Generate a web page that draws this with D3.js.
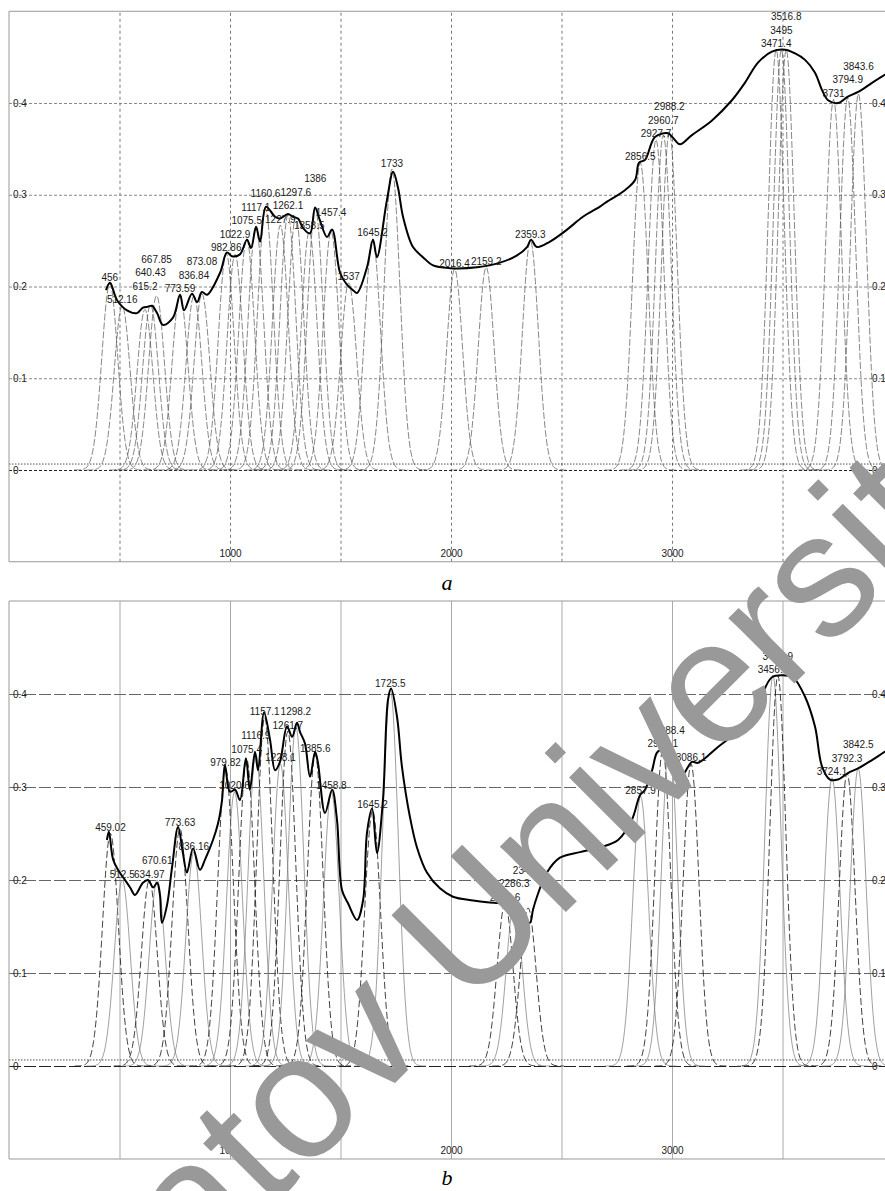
<!DOCTYPE html>
<html>
<head>
<meta charset="utf-8">
<script src="https://cdn.jsdelivr.net/npm/d3@7"></script>
<style>
body { margin: 0; background: #fff; }
text { font-family: "Liberation Sans", Arial, sans-serif; }
</style>
</head>
<body>
<svg id="fig" width="885" height="1191"></svg>
<script>
// ---- panel a: measured spectrum (wavenumber, absorbance)
const specA_nu = [439,457,489,534,579,606,629,647,670,697,742,774,792,828,851,873,896,955,986,1009,1045,1077,1095,1118,1136,1163,1204,1226,1262,1285,1308,1330,1362,1385,1407,1439,1462,1498,1529,1557,1575,1620,1647,1665,1710,1738,1760,1783,1828,1873,1919,1995,2118,2222,2299,2344,2362,2389,2448,2525,2597,2674,2697,2787,2833,2851,2878,2923,2982,3005,3036,3090,3181,3271,3330,3389,3452,3511,3557,3602,3647,3679,3706,3751,3796,3842,3905,3964,4000];
const specA_abs = [0.196,0.204,0.185,0.174,0.171,0.177,0.178,0.179,0.171,0.158,0.166,0.191,0.174,0.192,0.183,0.194,0.191,0.215,0.237,0.233,0.235,0.251,0.242,0.265,0.249,0.287,0.276,0.274,0.279,0.276,0.274,0.264,0.258,0.286,0.272,0.254,0.262,0.215,0.202,0.196,0.193,0.221,0.251,0.232,0.294,0.325,0.308,0.276,0.243,0.232,0.223,0.220,0.221,0.226,0.234,0.243,0.251,0.243,0.249,0.262,0.276,0.287,0.291,0.305,0.316,0.335,0.338,0.363,0.367,0.362,0.355,0.365,0.381,0.403,0.422,0.444,0.456,0.458,0.454,0.447,0.433,0.414,0.403,0.400,0.407,0.412,0.422,0.431,0.436];

// panel a: fitted bands (position, height)
const peaksA = [456,512.16,615.2,640.43,667.85,773.59,836.84,873.08,982.86,1022.9,1075.5,1117.1,1160.6,1227.9,1262.1,1297.6,1358.5,1386,1457.4,1537,1645.2,1733,2016.4,2159.2,2359.3,2856.5,2927.7,2960.7,2988.2,3471.4,3495,3516.8,3731,3794.9,3843.6];
const heightsA = [0.203,0.179,0.175,0.18,0.19,0.191,0.19,0.192,0.236,0.235,0.252,0.265,0.285,0.267,0.278,0.276,0.26,0.285,0.26,0.204,0.252,0.328,0.219,0.221,0.25,0.335,0.36,0.365,0.368,0.458,0.458,0.458,0.404,0.406,0.41];

// ---- panel b
const specB_nu = [443,452,471,493,516,548,570,606,629,652,670,683,692,715,738,765,787,805,833,864,887,923,946,964,977,1000,1023,1045,1072,1090,1113,1127,1154,1181,1204,1226,1258,1281,1303,1317,1339,1362,1385,1398,1430,1462,1484,1507,1534,1575,1602,1620,1643,1665,1692,1715,1729,1756,1778,1814,1846,1891,1950,2009,2100,2163,2222,2281,2312,2335,2357,2371,2389,2434,2493,2584,2674,2756,2819,2855,2878,2910,2932,2959,2982,3005,3045,3090,3118,3208,3299,3389,3452,3511,3548,3602,3647,3679,3715,3751,3796,3842,3905,3964,4000];
const specB_abs = [0.243,0.252,0.222,0.211,0.203,0.192,0.184,0.197,0.200,0.192,0.197,0.184,0.154,0.173,0.214,0.257,0.229,0.208,0.234,0.211,0.222,0.243,0.261,0.286,0.324,0.295,0.297,0.286,0.331,0.297,0.338,0.318,0.380,0.351,0.318,0.327,0.365,0.354,0.369,0.359,0.347,0.311,0.338,0.326,0.272,0.297,0.265,0.189,0.175,0.157,0.178,0.251,0.277,0.229,0.286,0.394,0.406,0.375,0.322,0.268,0.235,0.208,0.191,0.182,0.178,0.176,0.175,0.173,0.170,0.157,0.154,0.168,0.182,0.208,0.224,0.230,0.235,0.243,0.265,0.291,0.297,0.318,0.337,0.342,0.351,0.329,0.313,0.327,0.326,0.343,0.361,0.390,0.418,0.420,0.418,0.397,0.365,0.322,0.308,0.308,0.315,0.320,0.329,0.338,0.343];

const peaksB = [459.02,512.5,634.97,670.61,773.63,836.16,979.82,1020.6,1075.4,1116.9,1157.1,1228.1,1261.7,1298.2,1385.6,1458.8,1645.2,1725.5,2244.6,2286.3,2349.1,2857.9,2958.1,2988.4,3086.1,3456.8,3478.9,3724.1,3792.3,3842.5];
const heightsB = [0.25,0.20,0.20,0.20,0.255,0.23,0.32,0.295,0.33,0.335,0.375,0.325,0.36,0.365,0.335,0.295,0.275,0.405,0.175,0.175,0.17,0.29,0.34,0.35,0.325,0.42,0.42,0.31,0.315,0.32];

const bandSigma = 36;          // gaussian width of each band, cm-1
const fitBaseline = 0.0065;    // dotted baseline of the fit
const xGrid = [500,1000,1500,2000,2500,3000,3500];
const xLabels = [1000,2000,3000];
const yTicks = [0,0.1,0.2,0.3,0.4];

const svg = d3.select("#fig");
const x = d3.scaleLinear().domain([0, 4000]).range([9, 893]);
const fmtY = d => d === 0 ? "0" : d3.format(".1f")(d);

function gaussPoints(c, h) {
  const pts = [];
  for (let v = c - 4.5 * bandSigma; v <= c + 4.5 * bandSigma; v += bandSigma / 8) {
    pts.push([v, h * Math.exp(-((v - c) ** 2) / (2 * bandSigma * bandSigma))]);
  }
  return pts;
}

function labelWidth(s) {
  let w = 0;
  for (const ch of s) w += ch === "." ? 2.78 : 5.56;
  return w;
}

// put each peak label just above its band, lift it when it hits an earlier one
function placeLabels(peaks, heights, y) {
  const placed = [];
  peaks.forEach((p, i) => {
    const txt = String(p);
    const w = labelWidth(txt);
    const cx = x(p);
    let cy = y(heights[i]) - 6;
    let moved = true;
    while (moved) {
      moved = false;
      for (const b of placed) {
        if (Math.abs(b.cx - cx) < (b.w + w) / 2 - 2 && Math.abs(b.cy - cy) < 11) {
          cy = b.cy - 13.5;
          moved = true;
        }
      }
    }
    placed.push({ txt, cx, cy, w });
  });
  return placed;
}

function panel(cfg) {
  const y = d3.scaleLinear().domain([-0.1, 0.5]).range([cfg.bottom, cfg.top]);
  const g = svg.append("g");
  const plotW = x(4000) - x(0);

  svg.append("clipPath").attr("id", "clip" + cfg.name)
    .append("rect").attr("x", x(0)).attr("y", cfg.top)
    .attr("width", plotW).attr("height", cfg.bottom - cfg.top);

  // vertical grid + x labels
  const gx = g.append("g")
    .attr("transform", `translate(0,${cfg.bottom})`)
    .call(d3.axisBottom(x).tickValues(xGrid)
      .tickSize(-(cfg.bottom - cfg.top))
      .tickFormat(d => xLabels.includes(d) ? d : ""));
  gx.select(".domain").remove();
  gx.selectAll("line").attr("stroke", cfg.vColor).attr("stroke-dasharray", cfg.vDash);
  gx.selectAll("text").attr("y", -5).attr("dy", 0)
    .attr("font-family", "Liberation Sans, Arial").attr("font-size", 10).attr("fill", "#222");

  // horizontal grid + left labels
  const gy = g.append("g")
    .attr("transform", `translate(${x(0)},0)`)
    .call(d3.axisLeft(y).tickValues(yTicks).tickSize(-plotW).tickFormat(fmtY));
  gy.select(".domain").remove();
  gy.selectAll("line")
    .attr("stroke", d => d === 0 ? "#222" : cfg.hColor)
    .attr("stroke-dasharray", cfg.hDash);
  gy.selectAll("text").attr("x", 4).attr("text-anchor", "start")
    .attr("font-family", "Liberation Sans, Arial").attr("font-size", 10).attr("fill", "#222");

  // right labels
  const gr = g.append("g")
    .attr("transform", "translate(872,0)")
    .call(d3.axisRight(y).tickValues(yTicks).tickSize(0).tickPadding(0).tickFormat(fmtY));
  gr.select(".domain").remove();
  gr.selectAll("text").attr("font-family", "Liberation Sans, Arial").attr("font-size", 10).attr("fill", "#222");

  // fit baseline
  g.append("line")
    .attr("x1", x(0)).attr("x2", x(4000))
    .attr("y1", y(fitBaseline)).attr("y2", y(fitBaseline))
    .attr("stroke", "#222").attr("stroke-width", 0.8).attr("stroke-dasharray", "1.5,1.5");

  const plot = g.append("g").attr("clip-path", `url(#clip${cfg.name})`);
  const line = d3.line().x(d => x(d[0])).y(d => y(d[1]));

  // bands
  plot.selectAll("path.band")
    .data(cfg.peaks.map((p, i) => gaussPoints(p, cfg.heights[i])))
    .join("path")
    .attr("class", "band")
    .attr("fill", "none")
    .attr("d", line.curve(d3.curveLinear))
    .attr("stroke", (d, i) => cfg.bandStyle(i).color)
    .attr("stroke-width", (d, i) => cfg.bandStyle(i).width)
    .attr("stroke-dasharray", (d, i) => cfg.bandStyle(i).dash);

  // measured spectrum
  plot.append("path")
    .datum(cfg.nu.map((v, i) => [v, cfg.abs[i]]))
    .attr("fill", "none")
    .attr("stroke", "#000")
    .attr("stroke-width", 2)
    .attr("stroke-linejoin", "round")
    .attr("d", d3.line().x(d => x(d[0])).y(d => y(d[1])).curve(d3.curveCatmullRom.alpha(0.5)));

  // peak labels
  g.selectAll("text.peak")
    .data(placeLabels(cfg.peaks, cfg.heights, y))
    .join("text")
    .attr("class", "peak")
    .attr("x", d => d.cx)
    .attr("y", d => d.cy + 3.6)
    .attr("text-anchor", "middle")
    .attr("font-size", 10)
    .attr("fill", "#1a1a1a")
    .text(d => d.txt);

  // frame
  g.append("path")
    .attr("d", `M${x(4000)},${cfg.top}H${x(0)}V${cfg.bottom}H${x(4000)}`)
    .attr("fill", "none").attr("stroke", "#999").attr("stroke-width", 1);

  // caption
  svg.append("text")
    .attr("x", 447).attr("y", cfg.captionY)
    .attr("text-anchor", "middle")
    .style("font-family", "Liberation Serif, Times New Roman, serif")
    .style("font-style", "italic")
    .attr("font-size", 22)
    .text(cfg.name);
}

panel({
  name: "a", top: 11.25, bottom: 561.75, captionY: 590,
  nu: specA_nu, abs: specA_abs, peaks: peaksA, heights: heightsA,
  vColor: "#777", vDash: "3,3", hColor: "#888", hDash: "3,2",
  bandStyle: () => ({ color: "#555", width: 0.7, dash: "7,2" })
});

panel({
  name: "b", top: 601, bottom: 1159, captionY: 1185,
  nu: specB_nu, abs: specB_abs, peaks: peaksB, heights: heightsB,
  vColor: "#aaa", vDash: null, hColor: "#666", hDash: "12,3",
  bandStyle: i => i % 2 ? { color: "#777", width: 0.7, dash: null }
                        : { color: "#111", width: 0.8, dash: "7,3" }
});

// watermark
svg.append("text")
  .attr("transform", "translate(4,1474) rotate(-45)")
  .attr("font-size", 176)
  .attr("fill", "#999")
  .text("Saratov University");
</script>
</body>
</html>
